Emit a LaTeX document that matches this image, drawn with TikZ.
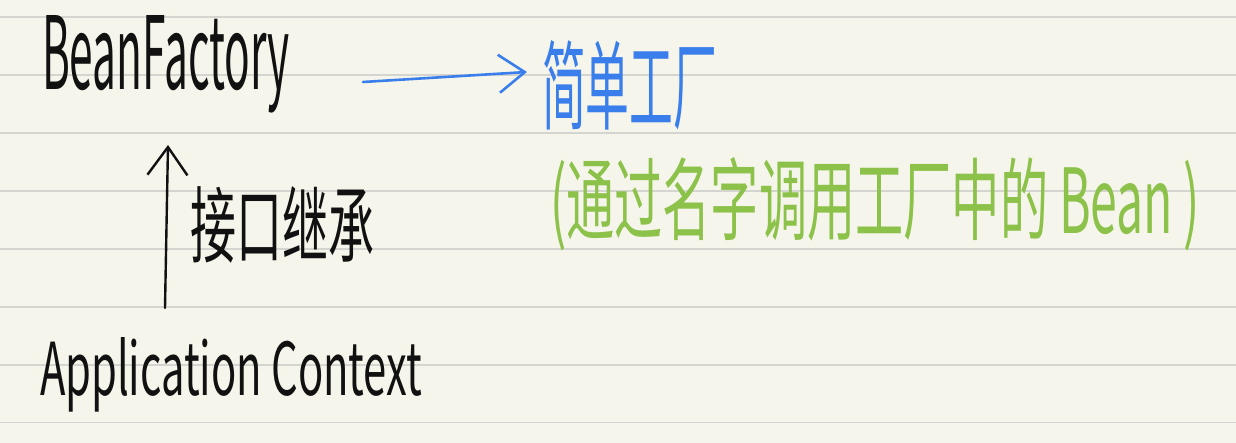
\documentclass[tikz,border=0pt]{standalone}
\usepackage{fontspec}
\usepackage{graphicx}
\setmainfont{Noto Sans CJK SC}
\usetikzlibrary{arrows.meta}
\definecolor{paper}{HTML}{F6F5EB}
\definecolor{rule}{HTML}{D4D4D0}
\definecolor{inkblue}{HTML}{3A7EEB}
\definecolor{inkgreen}{HTML}{8CC24A}
\definecolor{inkblack}{HTML}{111111}
\tikzset{
  txt/.style={anchor=base west, inner sep=0pt, outer sep=0pt},
  bluearr/.style={draw=inkblue, line width=2.6pt, line cap=round, line join=round,
    -{Straight Barb[length=26pt, width=38pt, line width=2.6pt]}},
  blackarr/.style={draw=inkblack, line width=2.4pt, line cap=round, line join=round,
    -{Straight Barb[length=28pt, width=40pt, line width=2.4pt]}},
  ruling/.style={draw=rule, line width=1.6pt}
}
\begin{document}
\begin{tikzpicture}[x=1pt, y=-1pt]
\useasboundingbox (0,0) rectangle (1236,443);
\fill[paper] (0,0) rectangle (1236,443);
\foreach \i in {0,...,7} {
  \draw[ruling] (0,{17.3+57.9*\i}) -- (1236,{17.3+57.9*\i});
}
% texts
\node[txt, text=inkblack] (bf) at (42,90) {\resizebox{248pt}{74pt}{BeanFactory}};
\node[txt, text=inkblue] (simple) at (542,123) {\resizebox{175pt}{82pt}{简单工厂}};
\node[txt, text=inkgreen] (note) at (550,234) {\resizebox{650pt}{76pt}{(通过名字调用工厂中的 Bean )}};
\node[txt, text=inkblack] (inherit) at (190,257) {\resizebox{184pt}{70pt}{接口继承}};
\node[txt, text=inkblack] (ac) at (40,395) {\resizebox{382pt}{58pt}{Application Context}};
% connectors
\draw[bluearr] ([shift={(73,-8)}]bf.base east) -- ([shift={(-15,-51)}]simple.base west);
\draw[blackarr] ([shift={(125,-87)}]ac.base west) -- ([shift={(126,55)}]bf.base west);
\end{tikzpicture}
\end{document}
